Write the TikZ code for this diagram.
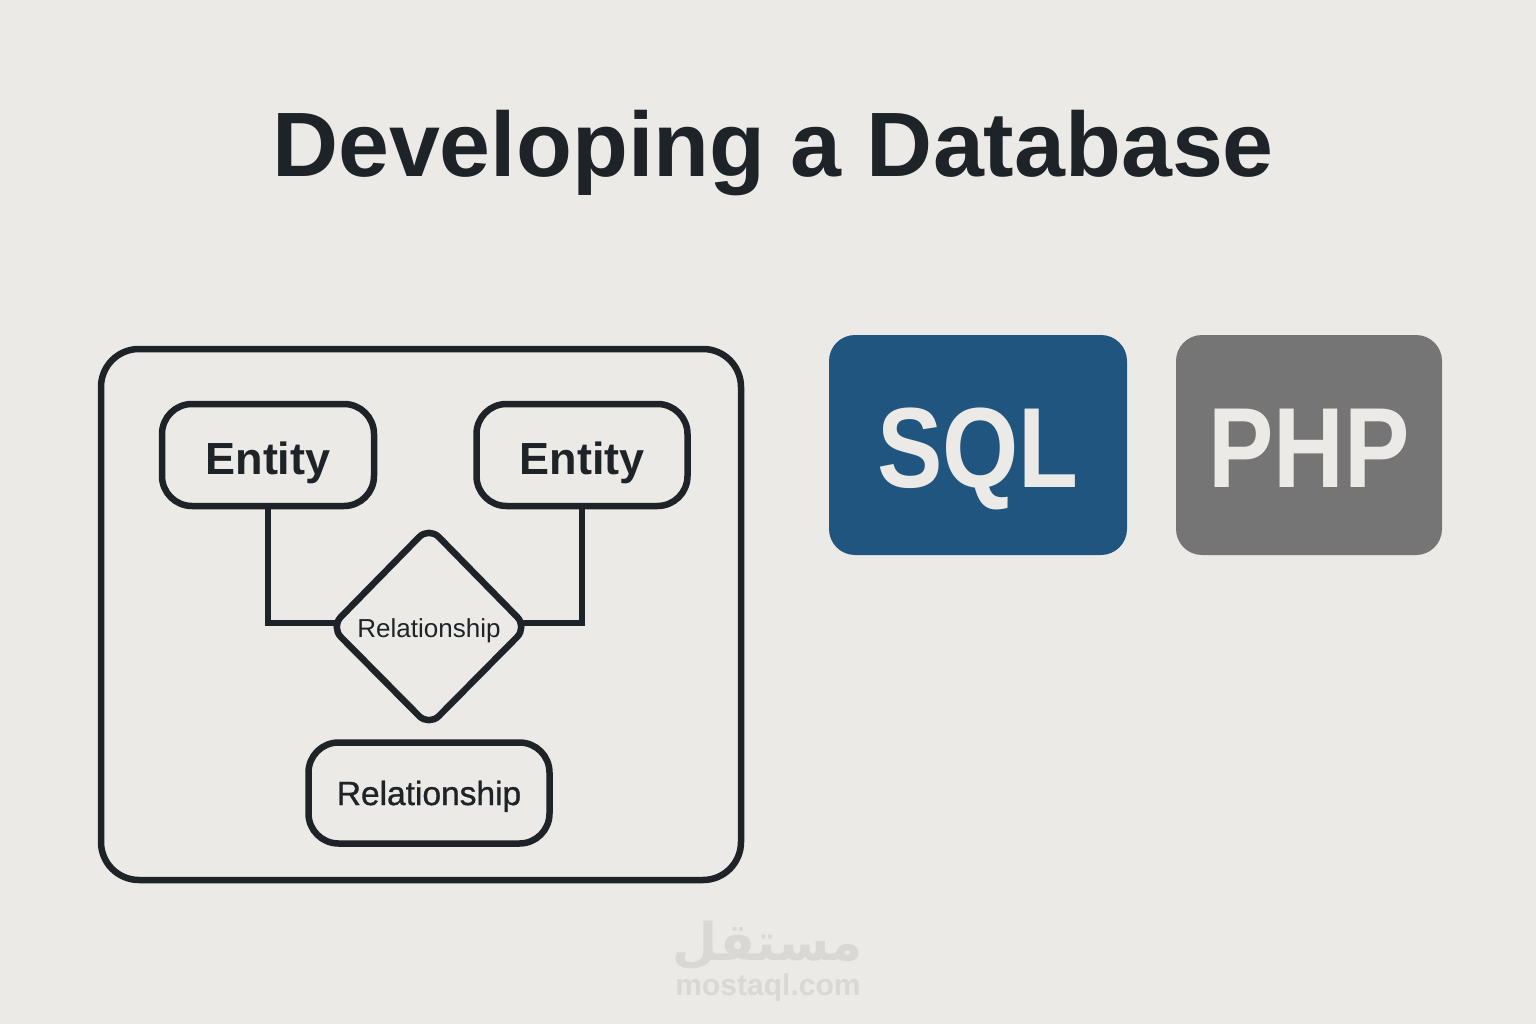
\documentclass[tikz,border=0pt]{standalone}
\usepackage{fontspec}
\setmainfont{Liberation Sans}
\newfontfamily\arabicfont[Script=Arabic]{DejaVu Sans}
\newfontfamily\medfont[FakeBold=1]{Liberation Sans}
\newfontfamily\badgefont[FakeStretch=0.86]{Liberation Sans}
\TeXXeTstate=1
\definecolor{bg}{HTML}{ECEAE6}
\definecolor{ink}{HTML}{1D2327}
\definecolor{sqlblue}{HTML}{20557F}
\definecolor{phpgray}{HTML}{757575}
\definecolor{chip}{HTML}{ECEAE6}
\definecolor{wmark}{HTML}{DAD8D4}
\tikzset{
 x=1pt,y=-1pt,
 er/.style={draw=ink,line width=6.5pt,rounded corners=30pt,inner sep=0,text=ink,text height=38pt,text depth=0pt,font=\fontsize{45}{50}\selectfont\bfseries},
 link/.style={draw=ink,line width=6.5pt,line join=miter},
 badge/.style={rounded corners=26pt,inner sep=0,text=chip,text height=84pt,text depth=0pt,font=\badgefont\fontsize{114}{114}\selectfont\bfseries}
}
\begin{document}
\begin{tikzpicture}
\useasboundingbox (0,0) rectangle (1536,1024);
\fill[bg] (0,0) rectangle (1536,1024);
\node[text=ink,font=\fontsize{91.5}{100}\selectfont\bfseries] (title) at (773,153) {Developing a Database};
\draw[draw=ink,line width=6.5pt,rounded corners=38pt] (101,349) rectangle (741,880);
\node[er,minimum width=212pt,minimum height=102pt] (e1) at (268,455) {Entity};
\node[er,minimum width=211pt,minimum height=102pt] (e2) at (582,455) {Entity};
\node[er,minimum width=241pt,minimum height=101pt,text height=24pt,font=\medfont\fontsize{33.5}{40}\selectfont] (r2) at (429,793) {Relationship};
\coordinate (rl) at (345,623);
\coordinate (rr) at (513,623);
\draw[link] (e1.south) -- (268,623) -- (rl);
\draw[link] (e2.south) -- (582,623) -- (rr);
\draw[draw=ink,fill=bg,line width=6.5pt,rounded corners=14pt] (429,527) -- (527,627) -- (429,726) -- (331,627) -- cycle;
\node[text=ink,font=\fontsize{26}{30}\selectfont] (r1) at (429,631) {Relationship};
\node[badge,fill=sqlblue,minimum width=298pt,minimum height=220pt] (sql) at (978,445) {SQL};
\node[badge,fill=phpgray,minimum width=266pt,minimum height=220pt] (php) at (1309,445) {PHP};
\node[text=wmark,font=\arabicfont\bfseries\fontsize{52}{52}\selectfont] (wm) at (768,945) {\beginR مستقل\endR};
\node[text=wmark,font=\fontsize{30}{30}\selectfont\bfseries] (wm2) at (768,988) {mostaql.com};
\end{tikzpicture}
\end{document}
